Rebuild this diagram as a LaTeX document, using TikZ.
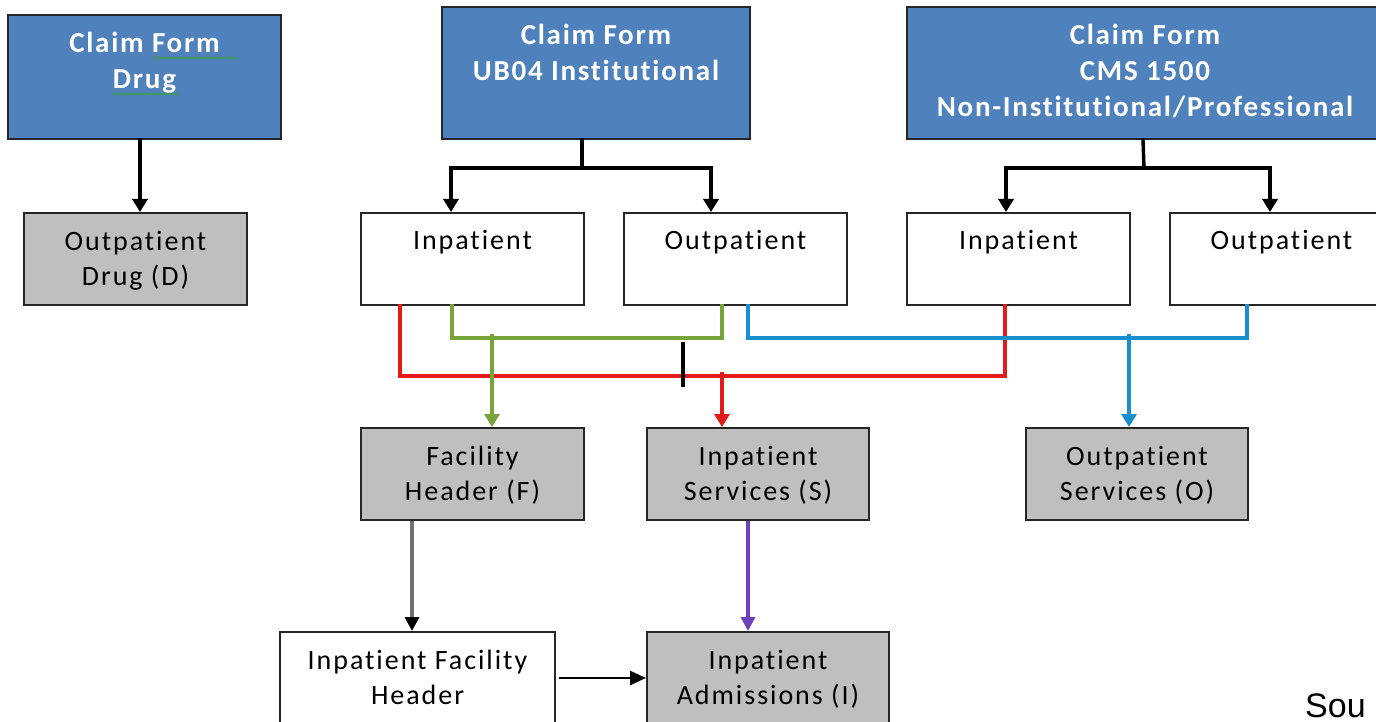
\documentclass[tikz,border=0pt]{standalone}
\usepackage{fontspec}
\setmainfont{Carlito}[Ligatures=NoCommon]
\newfontfamily\regfont{Carlito}[Ligatures=NoCommon, LetterSpace=7]
\newfontfamily\hdrfont{Carlito}[Ligatures=NoCommon, LetterSpace=6]
\newfontfamily\arialfont{Liberation Sans}
\usetikzlibrary{arrows.meta,decorations.pathmorphing,calc}
\definecolor{hdrblue}{HTML}{4F81BD}
\definecolor{boxgray}{HTML}{BFBFBF}
\definecolor{lnred}{HTML}{E31B1B}
\definecolor{lngreen}{HTML}{77A33A}
\definecolor{lnblue}{HTML}{1A8FCD}
\definecolor{lnpurple}{HTML}{7040B8}
\definecolor{lngray}{HTML}{707070}
\definecolor{spell}{HTML}{3CA03C}
\tikzset{
  bx/.style={draw=black!85, line width=2pt, inner sep=0pt},
  hdr/.style={bx, fill=hdrblue},
  gry/.style={bx, fill=boxgray},
  wht/.style={bx, fill=white},
  txt/.style={anchor=base, inner sep=0pt, align=center, font=\regfont\fontsize{28}{35.5}\selectfont},
  htxt/.style={anchor=base, inner sep=0pt, align=center, text=white, font=\hdrfont\bfseries\fontsize{29}{36}\selectfont},
  conn/.style={line width=3.4pt, line cap=rect},
  tip/.style={-{Triangle[width=15pt,length=13pt]}},
}
\begin{document}
\begin{tikzpicture}[x=1pt,y=-1pt]
\useasboundingbox (0,0) rectangle (1376,722);
% boxes
\node[hdr, minimum width=273pt, minimum height=124pt] (cfd) at (144.5,77) {};
\node[hdr, minimum width=308pt, minimum height=132pt] (ub) at (596,73) {};
\node[hdr, minimum width=476pt, minimum height=132pt] (cms) at (1145,73) {};
\node[gry, minimum width=223pt, minimum height=92pt] (od) at (135.5,259) {};
\node[wht, minimum width=223pt, minimum height=92pt] (ipU) at (472.5,259) {};
\node[wht, minimum width=223pt, minimum height=92pt] (opU) at (735.5,259) {};
\node[wht, minimum width=223pt, minimum height=92pt] (ipC) at (1018.5,259) {};
\node[wht, minimum width=223pt, minimum height=92pt] (opC) at (1281.5,259) {};
\node[gry, minimum width=223pt, minimum height=92pt] (fh) at (472.5,474) {};
\node[gry, minimum width=222pt, minimum height=92pt] (isv) at (758,474) {};
\node[gry, minimum width=222pt, minimum height=92pt] (osv) at (1137,474) {};
\node[wht, minimum width=275pt, minimum height=100pt] (ifh) at (417.5,682) {};
\node[gry, minimum width=242pt, minimum height=100pt] (ia) at (768,682) {};
% texts (anchor = baseline of last line)
\node[htxt] (tcfd) at (144.5,89) {Claim Form\\Drug};
\node[htxt] (tub) at (596,81) {Claim Form\\UB04 Institutional};
\node[htxt] (tcms) at (1145,117) {Claim Form\\CMS 1500\\Non-Institutional/Professional};
\node[txt] (tod) at (135.5,285.5) {Outpatient\\Drug (D)};
\node[txt] (tipU) at (472.5,250) {Inpatient};
\node[txt] (topU) at (735.5,250) {Outpatient};
\node[txt] (tipC) at (1018.5,250) {Inpatient};
\node[txt] (topC) at (1281.5,250) {Outpatient};
\node[txt] (tfh) at (472.5,500.5) {Facility\\Header (F)};
\node[txt] (tisv) at (758,500.5) {Inpatient\\Services (S)};
\node[txt] (tosv) at (1137,500.5) {Outpatient\\Services (O)};
\node[txt] (tifh) at (417.5,704.5) {Inpatient Facility\\Header};
\node[txt] (tia) at (768,704.5) {Inpatient\\Admissions (I)};
\node[anchor=base west, inner sep=0pt, font=\arialfont\fontsize{34}{40}\selectfont] (src) at (1305,717) {Sou};
% spell-check underlines
\draw[spell, line width=0.8pt, decorate, decoration={zigzag, amplitude=1.2pt, segment length=4pt}] (153,58) -- (237,58);
\draw[spell, line width=0.8pt, decorate, decoration={zigzag, amplitude=1.2pt, segment length=4pt}] (113,94) -- (180,94);
% black connectors
\draw[conn, tip] ([xshift=-4.5pt]cfd.south) -- ([xshift=4.5pt]od.north);
\coordinate (ubj) at ($([xshift=-14pt]ub.south)+(0,28)$);
\draw[conn] ([xshift=-14pt]ub.south) -- (ubj);
\draw[conn, tip] (ubj) -| ([xshift=-21.5pt]ipU.north);
\draw[conn, tip] (ubj) -| ([xshift=-24.5pt]opU.north);
\coordinate (cmsj) at ($([xshift=-1pt]cms.south)+(0,28)$);
\draw[conn] ([xshift=-2pt]cms.south) -- (cmsj);
\draw[conn, tip] (cmsj) -| ([xshift=-12.5pt]ipC.north);
\draw[conn, tip] (cmsj) -| ([xshift=-11.5pt]opC.north);
% green
\coordinate (gA) at ($([xshift=-20.5pt]ipU.south)+(0,32)$);
\coordinate (gB) at ($([xshift=-13.5pt]opU.south)+(0,32)$);
\coordinate (gJ) at ($([xshift=19.5pt]fh.north)+(0,-91)$);
\draw[conn, lngreen] ([xshift=-20.5pt]ipU.south) -- (gA) -- (gB) -- ([xshift=-13.5pt]opU.south);
% red
\coordinate (rA) at ($([xshift=-72.5pt]ipU.south)+(0,70)$);
\coordinate (rB) at ($([xshift=-13.5pt]ipC.south)+(0,70)$);
\draw[conn, lnred] ([xshift=-72.5pt]ipU.south) -- (rA) -- (rB) -- ([xshift=-13.5pt]ipC.south);
\coordinate (rJ) at ($([xshift=-36pt]isv.north)+(0,-53)$);
\draw[conn, lnred, tip] (rJ) -- ([xshift=-36pt]isv.north);
\draw[conn, lngreen, tip] (gJ) -- ([xshift=19.5pt]fh.north);
% blue
\coordinate (bA) at ($([xshift=12.5pt]opU.south)+(0,32)$);
\coordinate (bB) at ($([xshift=-34.5pt]opC.south)+(0,32)$);
\draw[conn, lnblue] ([xshift=12.5pt]opU.south) -- (bA) -- (bB) -- ([xshift=-34.5pt]opC.south);
\coordinate (bJ) at ($([xshift=-8pt]osv.north)+(0,-91)$);
\draw[conn, lnblue, tip] (bJ) -- ([xshift=-8pt]osv.north);
% small black tick
\coordinate (tkA) at (683,342);
\coordinate (tkB) at (683,387);
\draw[line width=3.4pt] (tkA) -- (tkB);
% lower connectors
\draw[line width=3.2pt, lngray, -{Triangle[width=14pt,length=14pt,color=black,fill=black]}] ([xshift=-60.5pt]fh.south) -- ([xshift=-5.5pt]ifh.north);
\draw[line width=3.2pt, lnpurple, -{Triangle[width=14pt,length=14pt]}] ([xshift=-10pt]isv.south) -- ([xshift=-20pt]ia.north);
\draw[line width=2.4pt, black, -{Triangle[width=14pt,length=16pt]}, shorten <=3pt] ([yshift=4pt]ifh.east) -- ([yshift=4pt]ia.west);
\end{tikzpicture}
\end{document}
